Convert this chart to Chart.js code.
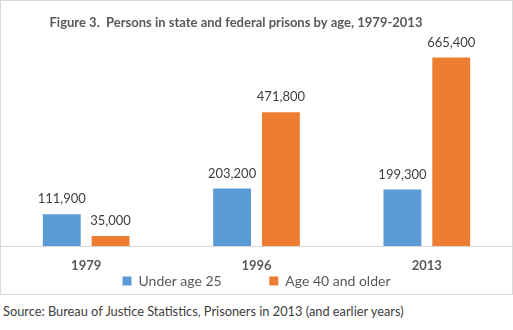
<!DOCTYPE html>
<html>
<head>
<meta charset="utf-8">
<script src="https://cdn.jsdelivr.net/npm/chart.js@4"></script>
<style>
  body { margin: 0; background: #fff; }
  #box {
    position: absolute; left: 0; top: 0;
    width: 511px; height: 293px;
    border: 1px solid #d9d9d9;
  }
  #source {
    position: absolute; left: 3px; top: 303px;
    font: 12.8px Lato, sans-serif; color: #404040;
    white-space: nowrap;
  }
</style>
</head>
<body>
<div id="box"><canvas id="chart" width="511" height="293"></canvas></div>
<div id="source">Source: Bureau of Justice Statistics, Prisoners in 2013 (and earlier years)</div>
<script>
const years = ["1979", "1996", "2013"];
const under25 = [111900, 203200, 199300];
const over40 = [35000, 471800, 665400];
const seriesNames = ["Under age 25", "Age 40 and older"];

const textGrey = "#595959";
const nbsp = (n) => "\u00a0".repeat(n);

// value labels above each bar
const barLabels = {
  id: "barLabels",
  afterDatasetsDraw(chart) {
    const ctx = chart.ctx;
    ctx.save();
    ctx.font = "13px Lato";
    ctx.fillStyle = "#404040";
    ctx.textAlign = "center";
    ctx.textBaseline = "middle";
    chart.data.datasets.forEach((ds, i) => {
      chart.getDatasetMeta(i).data.forEach((bar, j) => {
        ctx.fillText(ds.data[j].toLocaleString("en-US"), bar.x, bar.y - 15);
      });
    });
    ctx.restore();
  },
};

new Chart(document.getElementById("chart"), {
  type: "bar",
  data: {
    labels: years,
    datasets: [
      { label: seriesNames[0], data: under25, backgroundColor: "#5B9BD5" },
      { label: seriesNames[1], data: over40, backgroundColor: "#ED7D31" },
    ],
  },
  options: {
    responsive: false,
    animation: false,
    categoryPercentage: 0.573,
    barPercentage: 0.776,
    layout: { padding: 0 },
    scales: {
      x: {
        grid: { display: false, drawTicks: false },
        border: { color: "#d9d9d9", width: 1 },
        ticks: {
          padding: 12,
          color: textGrey,
          font: { family: "Lato", size: 13, weight: "bold" },
        },
        afterFit(scale) {
          scale.height = 27;
        },
      },
      y: { display: false, min: 0, max: 700000 },
    },
    plugins: {
      title: {
        display: true,
        // trailing spaces push the title a little left, as in the original
        text: "Figure 3.  Persons in state and federal prisons by age, 1979-2013" + nbsp(13),
        color: textGrey,
        font: { family: "Lato", size: 13, weight: "bold" },
        padding: { top: 14, bottom: 17 },
      },
      legend: {
        position: "bottom",
        maxHeight: 21,
        labels: {
          boxWidth: 9,
          boxHeight: 9,
          padding: 1,
          color: textGrey,
          font: { family: "Lato", size: 14 },
          generateLabels(chart) {
            const items = Chart.defaults.plugins.legend.labels.generateLabels(chart);
            // widen the gap between the two entries
            items[0].text += nbsp(13);
            return items;
          },
        },
      },
      tooltip: { enabled: false },
    },
  },
  plugins: [barLabels],
});
</script>
</body>
</html>
